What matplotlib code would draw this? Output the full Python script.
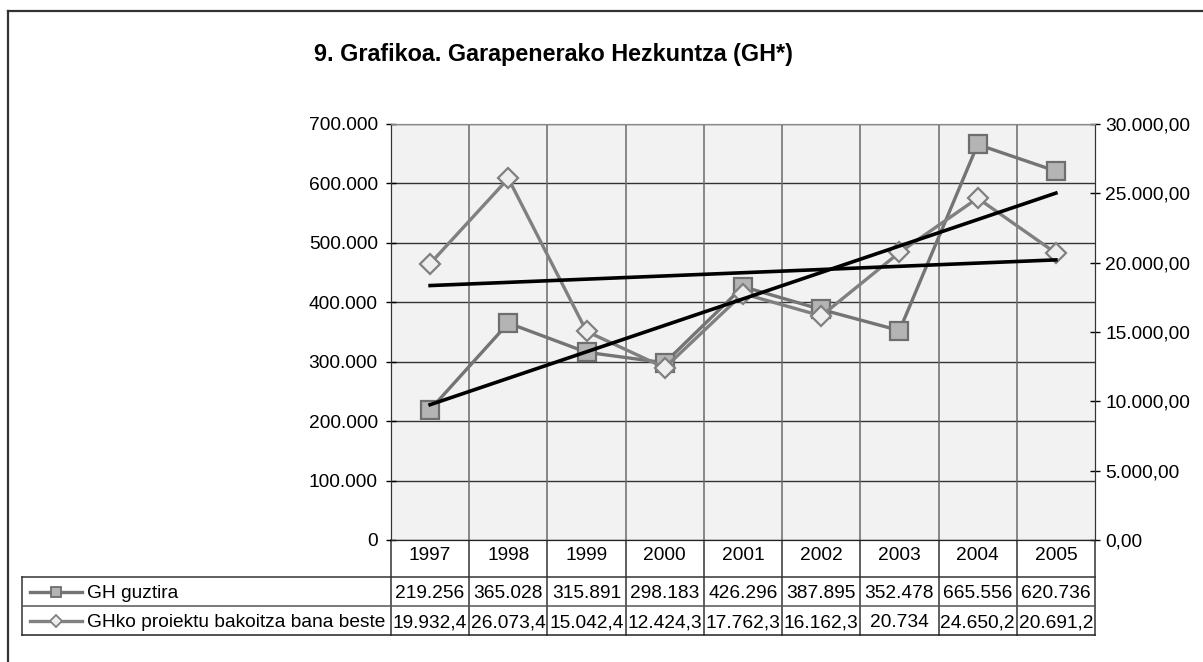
import numpy as np
import matplotlib
import matplotlib.pyplot as plt
from matplotlib.lines import Line2D

matplotlib.use('Agg')
plt.rcParams['font.family'] = ['Liberation Sans', 'DejaVu Sans']

years = ['1997', '1998', '1999', '2000', '2001', '2002', '2003', '2004', '2005']
gh_total = [219256, 365028, 315891, 298183, 426296, 387895, 352478, 665556, 620736]
gh_project = [19932.4, 26073.4, 15042.4, 12424.3, 17762.3, 16162.3, 20734.0, 24650.2, 20691.2]
gh_total_labels = ['219.256', '365.028', '315.891', '298.183', '426.296',
                   '387.895', '352.478', '665.556', '620.736']
gh_project_labels = ['19.932,4', '26.073,4', '15.042,4', '12.424,3', '17.762,3',
                     '16.162,3', '20.734', '24.650,2', '20.691,2']
series_names = ['GH guztira', 'GHko proiektu bakoitza bana beste']
left_ticks = [0, 100000, 200000, 300000, 400000, 500000, 600000, 700000]
right_ticks = [0, 5000, 10000, 15000, 20000, 25000, 30000]


def fmt_thousands(v, decimals=0):
    s = f"{v:,.{decimals}f}"
    return s.replace(',', 'X').replace('.', ',').replace('X', '.')


FS = 13.8
W, H = 1203, 662
L, R, T, B = 391, 1095, 124, 540   # plot area in pixels
fig = plt.figure(figsize=(W / 100, H / 100), dpi=100)
ax = fig.add_axes([L / W, 1 - B / H, (R - L) / W, (B - T) / H])
ax.set_facecolor('#F2F2F2')
x = np.arange(len(years))

# vertical category dividers
for b in x[:-1] + 0.5:
    ax.axvline(b, color='#6A6A6A', lw=1.1, zorder=1)
ax.set_axisbelow(True)
ax.yaxis.grid(True, color='#333333', lw=1.0)

gh_col = '#747474'
pr_col = '#808080'
ax.plot(x, gh_total, color=gh_col, lw=2.4, marker='s', markersize=12.5,
        markerfacecolor='#B4B4B4', markeredgecolor='#6E6E6E', markeredgewidth=1.6, zorder=3)
ax.set_xlim(-0.5, len(years) - 0.5)
ax.set_ylim(0, 700000)
ax.set_yticks(left_ticks)
ax.set_yticklabels([fmt_thousands(v) for v in left_ticks])
ax.set_xticks(x)
ax.set_xticklabels(years)
ax.tick_params(axis='x', length=0, pad=5, labelsize=FS)
ax.tick_params(axis='y', direction='inout', length=7, width=1, pad=6, labelsize=FS)

ax2 = ax.twinx()
ax2.plot(x, gh_project, color=pr_col, lw=2.4, marker='D', markersize=10.5,
         markerfacecolor='#EEEEEE', markeredgecolor='#808080', markeredgewidth=1.6, zorder=3)
ax2.set_ylim(0, 30000)
ax2.set_yticks(right_ticks)
ax2.set_yticklabels([fmt_thousands(v, 2) for v in right_ticks])
ax2.tick_params(axis='y', direction='inout', length=7, width=1, pad=4, labelsize=FS)

# linear trend lines (as Excel draws them)
p1 = np.polyfit(x, gh_total, 1)
p2 = np.polyfit(x, gh_project, 1)
ax2.plot(x[[0, -1]], np.polyval(p1, x[[0, -1]]), color='black', lw=2.6,
         transform=ax.transData, zorder=5)
ax2.plot(x[[0, -1]], np.polyval(p2, x[[0, -1]]), color='black', lw=2.6, zorder=5)

for a in (ax, ax2):
    a.spines['top'].set_color('#8A8A8A')
    a.spines['left'].set_color('#333333')
    a.spines['right'].set_color('#333333')
    a.spines['bottom'].set_color('#222222')

# data table below the plot, drawn in pixel coordinates
tab = fig.add_axes([0, 0, 1, 1], zorder=-1)
tab.set_xlim(0, W)
tab.set_ylim(H, 0)
tab.axis('off')
TL = 22
rows_y = [577, 606, 635]
cw = (R - L) / len(years)
edges = [L + i * cw for i in range(len(years) + 1)]

for e in edges:
    tab.plot([e, e], [B, rows_y[-1]], color='#333333', lw=1.1)
tab.plot([TL, TL], [rows_y[0], rows_y[-1]], color='#333333', lw=1.1)
tab.plot([TL, R], [rows_y[0], rows_y[0]], color='#333333', lw=1.1)
tab.plot([TL, R], [rows_y[1], rows_y[1]], color='#555555', lw=1.1)
tab.plot([TL, R], [rows_y[2], rows_y[2]], color='#222222', lw=1.1)

row_values = [gh_total_labels, gh_project_labels]
row_styles = [dict(marker='s', color=gh_col, mfc='#B4B4B4', mec='#6E6E6E', ms=7),
              dict(marker='D', color=pr_col, mfc='#EEEEEE', mec='#808080', ms=6)]
for r in range(2):
    yc = (rows_y[r] + rows_y[r + 1]) / 2
    st = row_styles[r]
    tab.add_line(Line2D([30, 82], [yc, yc], color=st['color'], lw=2.4))
    tab.add_line(Line2D([56], [yc], marker=st['marker'], markersize=st['ms'],
                        markerfacecolor=st['mfc'], markeredgecolor=st['mec'],
                        markeredgewidth=1.3, lw=0))
    tab.text(87, yc, series_names[r], ha='left', va='center_baseline', fontsize=FS)
    for i, lab in enumerate(row_values[r]):
        tab.text(edges[i] + cw / 2, yc, lab, ha='center', va='center_baseline', fontsize=FS)

# chart frame (only left and top visible in the crop)
tab.plot([8, 8], [11, H], color='#333333', lw=1.6)
tab.plot([8, W], [11, 11], color='#333333', lw=1.6)

fig.text(553 / W, 1 - 55 / H, '9. Grafikoa. Garapenerako Hezkuntza (GH*)',
         ha='center', va='center', fontsize=16.8, fontweight='bold')

plt.savefig('out.png', dpi=100)
plt.close()
